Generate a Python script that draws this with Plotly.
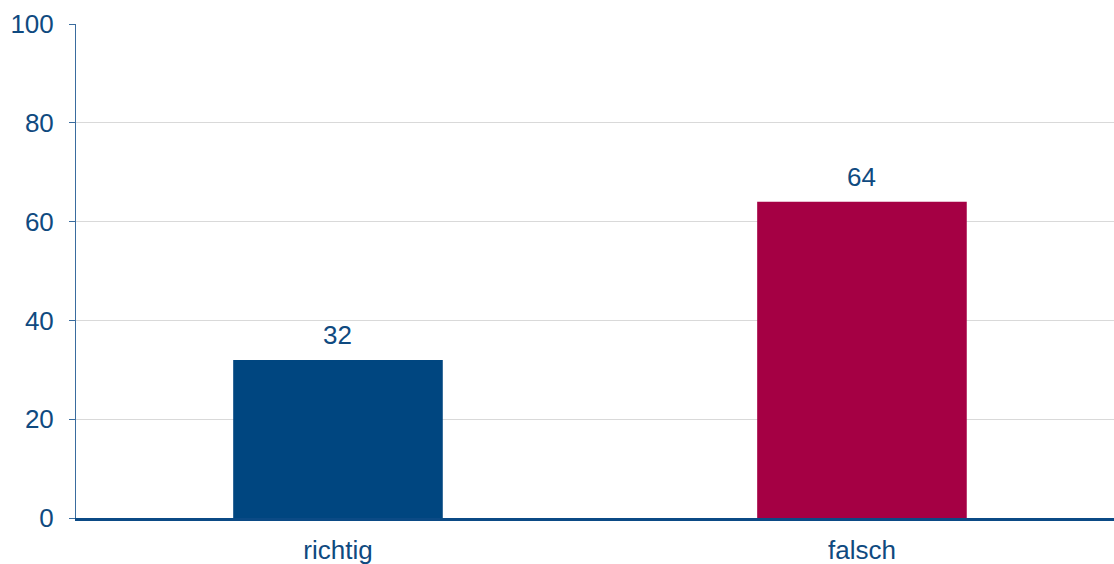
import plotly.graph_objects as go

categories = ["richtig", "falsch"]
values = [32, 64]
colors = ["#004680", "#A50044"]

text_color = "#0F4A80"
font_family = "Liberation Sans, Arial"

fig = go.Figure(go.Bar(
    x=categories, y=values,
    marker=dict(color=colors, line=dict(width=0)),
    width=0.4,
    hoverinfo="x+y",
))

for c, v in zip(categories, values):
    fig.add_annotation(
        x=c, y=v, text=str(v), showarrow=False,
        yanchor="bottom", yshift=8,
        font=dict(size=26, color=text_color, family=font_family),
    )

fig.update_layout(
    width=1114, height=564,
    margin=dict(l=76, r=0, t=24, b=46),
    paper_bgcolor="white", plot_bgcolor="white",
    font=dict(family=font_family, size=26, color=text_color),
    showlegend=False,
)
fig.update_yaxes(
    range=[0, 100], tickvals=[0, 20, 40, 60, 80, 100],
    showgrid=True, gridcolor="#D9D9D9", gridwidth=1,
    showline=True, linecolor="#3A6C9E", linewidth=1,
    ticks="outside", ticklen=6, tickcolor="#3A6C9E",
    zeroline=False, ticklabelstandoff=10, automargin=False,
    tickfont=dict(size=26, color=text_color),
)
fig.update_xaxes(
    range=[-0.5, 1.481],
    showline=True, linecolor="#0B4A85", linewidth=3,
    ticks="", showgrid=False, ticklabelstandoff=7, automargin=False,
    tickfont=dict(size=26, color=text_color),
)

post = (
    "document.documentElement.style.overflow='hidden';"
    "document.body.style.margin='0';"
    "document.body.style.overflow='hidden';"
    "Plotly.relayout('{plot_id}', {width: 1114, height: 564});"
)
fig.write_html("out.html", post_script=post, config={"displayModeBar": False})
